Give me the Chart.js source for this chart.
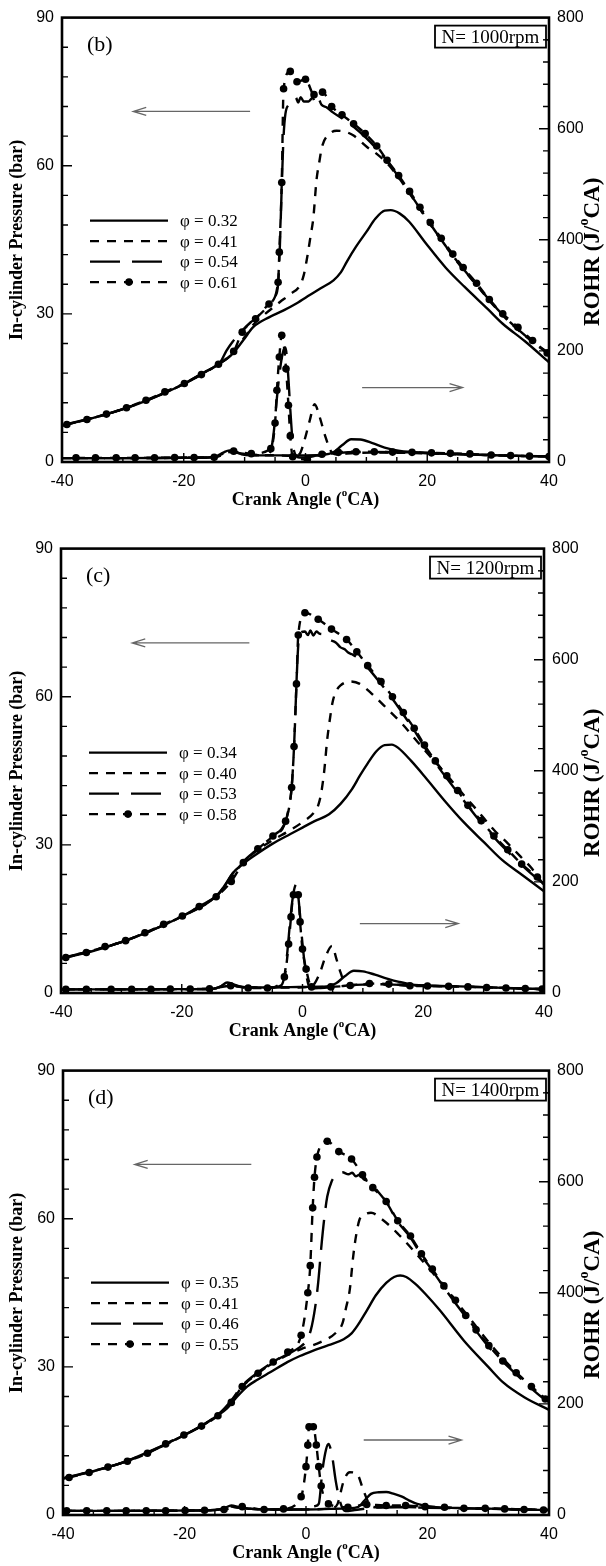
<!DOCTYPE html>
<html>
<head>
<meta charset="utf-8">
<script src="https://cdn.jsdelivr.net/npm/chart.js@4.4.1/dist/chart.umd.min.js"></script>
<style>
  html, body { margin: 0; padding: 0; background: #fff; }
  body { width: 606px; height: 1566px; position: relative; overflow: hidden; }
  canvas { position: absolute; left: 0; }
</style>
</head>
<body>
<canvas id="chartB" width="606" height="520" style="top:0px"></canvas>
<canvas id="chartC" width="606" height="520" style="top:531px"></canvas>
<canvas id="chartD" width="606" height="513" style="top:1053px"></canvas>
<script>
// ---- panel (b), N = 1000 rpm ----
const phiB = ["0.32", "0.41", "0.54", "0.61"];
const pressB1 = [[-40,7.4],[-35,8.9],[-30,10.7],[-25,13.0],[-20,15.8],[-17,17.9],[-14,20.0],[-12,21.9],[-10.2,24.7],[-8.6,27.3],[-6,29.3],[-3.6,30.7],[-1.5,32.1],[0.7,33.8],[2.5,35.2],[4.6,36.8],[5.8,38.4],[6.8,40.6],[8.3,43.6],[10,46.6],[11.5,49.3],[13,50.9],[14,51.0],[15.5,50.3],[17,48.7],[19.7,44.4],[23,39.4],[26.1,35.5],[30,30.9],[32.4,28.0],[36,24.5],[40,20.2]];
const pressB2 = [[-40,7.4],[-35,8.9],[-30,10.7],[-25,13.0],[-20,15.8],[-17,17.9],[-14,20.0],[-12,22.1],[-10,25.3],[-8.5,27.9],[-6.9,29.7],[-4.2,32.4],[-2.5,34.0],[-0.9,35.8],[-0.3,37.8],[0.2,40.9],[0.8,45.5],[1.3,49.6],[1.8,57.0],[2.3,61.0],[2.7,63.8],[4.0,66.5],[5.1,67.1],[6.5,66.9],[7.9,66.1],[10.1,63.8],[11.7,62.4],[13.4,60.5],[15.3,57.6],[17.1,54.4],[20.5,48.1],[24.2,41.7],[28.1,35.8],[32.4,29.7],[37.3,24.3],[40,21.9]];
const pressB3 = [[-40,7.4],[-30,10.7],[-20,15.8],[-16,18.6],[-14,20.2],[-13,22.5],[-12,24.3],[-10.4,26.6],[-9,28.3],[-8,29.3],[-6,31.8],[-5,33.5],[-4.5,36.0],[-4.2,44],[-3.9,56],[-3.6,66],[-3.3,70.5],[-2.8,72.3],[-2,73.3],[-1.6,73.8],[-1.2,72.8],[-0.8,73.9],[-0.3,73.0],[0.5,73.0],[1.2,73.8],[1.6,72.6],[2.1,73.6],[2.6,72.4],[3.5,71.8],[4.5,70.8],[6,69.6],[8,67.8],[10,65.6],[12,63.0],[13.4,61.0],[15.3,57.7],[17.1,54.5],[20.5,48.2],[24.2,41.8],[28.1,35.9],[32.4,29.8],[37.3,24.4],[40,22.0]];
const pressB4 = [[-39.2,7.6],[-35.9,8.6],[-32.7,9.7],[-29.4,11.0],[-26.2,12.5],[-23.1,14.2],[-19.9,15.9],[-17.1,17.7],[-14.3,19.8],[-11.8,22.4],[-10.4,26.3],[-8.2,29.0],[-6.0,32.0],[-4.5,36.4],[-4.3,42.5],[-3.9,56.6],[-3.6,75.6],[-2.5,79.1],[-1.4,77.0],[0.0,77.5],[1.4,74.4],[2.8,74.9],[4.3,72.0],[6.0,70.3],[7.9,68.5],[9.8,66.5],[11.7,64.0],[13.4,61.1],[15.3,58.0],[17.1,54.8],[18.8,51.6],[20.5,48.5],[22.3,45.3],[24.2,42.1],[25.9,39.4],[28.1,36.2],[30.2,32.9],[32.4,30.0],[34.9,27.3],[37.3,24.6],[39.7,22.1]];
const rohrB1 = [[-40,7],[-30,7],[-20,7.5],[-16,8],[-14.5,11],[-13.5,17],[-12.5,21],[-11.5,19],[-10.5,14],[-9,12],[-5,12],[0,12],[3,13],[4.5,17],[6,30],[7.5,41],[9,40.5],[11,34],[13,26],[15,21],[18,17.5],[22,15],[26,13.5],[30,12.5],[35,11],[40,10]];
const rohrB2 = [[-40,7],[-30,7],[-20,7.5],[-15,8.5],[-13.5,15],[-12.5,18],[-11,16],[-9,13],[-5,12],[-2,11],[-1,14],[-0.2,38],[0.7,75],[1.5,104],[2.3,82],[3.2,48],[4.2,19],[5,14],[8,16],[12,17],[16,16.5],[20,15.5],[25,14],[30,12.5],[35,11],[40,10]];
const rohrB3 = [[-40,7],[-30,7],[-20,7.5],[-15,8.5],[-13.5,15],[-12.5,18],[-11,16],[-9,13],[-6.5,12],[-5.7,20],[-5.2,55],[-4.7,115],[-4.2,165],[-3.7,198],[-3.3,206],[-2.9,165],[-2.5,95],[-2.1,35],[-1.7,14],[-1,8],[0,8],[2,12],[5,16],[10,18],[15,17.5],[20,16],[25,14.5],[30,12.5],[35,11],[40,10]];
const rohrB4 = [[-37.7,7.5],[-34.5,7.5],[-31.1,7.5],[-28,7.5],[-24.8,7.5],[-21.5,8],[-18.3,8],[-15,8.5],[-11.8,19.5],[-8.9,15],[-5.7,24],[-5.0,70],[-4.7,129],[-4.3,189],[-3.9,228],[-3.2,168],[-2.8,102],[-2.5,47],[-2.1,9.5],[0.3,4.8],[2.7,14],[5.4,17.4],[8.3,18.5],[11.3,18.5],[14.3,17.8],[17.5,17.4],[20.7,16.5],[23.8,15.6],[27.0,14.6],[30.5,12.6],[33.7,11.5],[36.8,10.5],[40,10]];

// ---- panel (c), N = 1200 rpm ----
const phiC = ["0.34", "0.40", "0.53", "0.58"];
const pressC1 = [[-40,7.0],[-35,8.4],[-30,10.3],[-25,12.7],[-20,15.5],[-17,17.6],[-14.3,19.6],[-13,21.4],[-11.6,24.2],[-10,26.0],[-8,27.8],[-5,30.2],[-2,32.2],[0,33.5],[2,34.8],[4.4,36.2],[6.3,38.3],[8.2,41.3],[9.5,44],[10.8,46.5],[12.2,48.9],[13.6,50.2],[14.8,50.3],[15.9,49.6],[18,47],[20.4,43.6],[23.5,39],[26.7,34.6],[30,30.6],[33.1,26.9],[36.5,23.8],[40,20.6]];
const pressC2 = [[-40,7.0],[-30,10.3],[-20,15.5],[-14.3,19.6],[-12,23],[-10,26.2],[-7.4,29.0],[-5,30.9],[-2,33.0],[0,34.6],[1.8,36.4],[2.6,38],[3.1,40.5],[3.6,45],[4.1,51.4],[4.6,56],[5.0,59.0],[5.6,61.2],[6.3,62.3],[7.9,63.1],[9.5,62.6],[11.4,60.7],[14.0,57.6],[16.5,54.5],[19.1,50.8],[21.6,47.3],[24,44],[26.7,40.1],[29,36.9],[31.8,32.9],[34,30.3],[36.3,27.4],[38,25.2],[40,21.8]];
const pressC3 = [[-40,7.0],[-30,10.3],[-20,15.5],[-14.3,19.6],[-13,21.6],[-11.8,23.8],[-10,26.4],[-7.4,29.2],[-4.9,31.8],[-2.8,34.8],[-2.2,38],[-1.8,41.6],[-1.4,49.9],[-1.0,62.6],[-0.7,70.5],[-0.3,73],[0.4,73.2],[0.9,72.5],[1.3,73.4],[1.8,72.4],[2.3,73.2],[2.8,72.8],[3.5,72.6],[4.4,71.6],[5.5,71.0],[6.3,70.0],[7.0,69.6],[7.5,69.0],[8.2,68.6],[9.5,67.6],[10.8,65.9],[13.0,62.6],[14.9,59.6],[16.7,56.4],[18.5,53.2],[20.2,49.8],[22.0,46.6],[25.7,40.6],[29.6,34.5],[34.0,28.6],[38.9,23.1],[40,22.1]];
const pressC4 = [[-39.2,7.2],[-35.8,8.2],[-32.7,9.4],[-29.3,10.6],[-26.1,12.2],[-23.0,13.9],[-19.9,15.6],[-17.1,17.5],[-14.3,19.5],[-11.8,22.6],[-9.8,26.4],[-7.4,29.2],[-4.9,31.8],[-2.8,34.8],[-1.8,41.6],[-1.4,49.9],[-1.0,62.6],[-0.7,72.5],[0.4,77.0],[2.6,75.7],[4.8,73.7],[7.3,71.6],[9.0,69.1],[10.8,66.3],[13.0,63.1],[14.9,60.0],[16.7,56.8],[18.5,53.6],[20.2,50.2],[22.0,47.0],[23.9,44.0],[25.7,41.0],[27.4,38.0],[29.6,34.9],[31.7,31.8],[34.0,29.0],[36.3,26.1],[38.9,23.5]];
const rohrC1 = [[-40,6.5],[-30,6.5],[-20,7],[-15,7.5],[-13.5,12],[-12.5,19],[-11.5,16],[-10,11],[-6,10],[-2,10.5],[1,11],[4,12],[5.5,17],[7,30],[8.5,40],[10,39],[12,33],[14,26],[16,20],[18,15.5],[22,13],[26,12],[30,10.5],[35,8.5],[40,7]];
const rohrC2 = [[-40,6.5],[-30,6.5],[-20,7],[-15,7.5],[-13.5,12],[-12.5,17],[-11,13],[-9,10],[-5,10],[-1,10],[1.5,12],[2.8,34],[3.8,65],[4.9,85],[5.6,62],[6.3,37],[7,18],[8,14],[11,16],[15,15],[20,13],[25,12],[30,10.5],[35,8.5],[40,7]];
const rohrC3 = [[-40,6.5],[-30,6.5],[-20,7],[-15,7.5],[-13.5,12],[-12.5,17],[-11,13],[-9,10],[-5,10],[-3.5,14],[-3,30],[-2.5,75],[-2,135],[-1.5,180],[-1.0,196],[-0.5,152],[0,88],[0.5,42],[1,14],[1.5,8],[3,9],[6,12],[10,15],[15,15],[20,13],[25,12],[30,10.5],[35,8.5],[40,7]];
const rohrC4 = [[-39.2,6.5],[-35.8,6.5],[-31.7,6.5],[-28.3,6.5],[-25.1,6.5],[-21.9,7],[-18.6,7],[-15.4,7.5],[-11.9,13],[-9.0,9],[-5.8,9],[-3.0,29],[-2.3,88],[-1.9,137],[-1.5,177],[-0.7,177],[-0.4,128],[0.0,79],[0.6,43],[1.5,11],[4.7,11],[7.9,13.5],[11.1,17],[14.3,16],[17.8,13],[20.7,12.5],[24.2,12],[27.4,11],[30.5,10],[33.7,9],[36.9,8],[39.7,7]];

// ---- panel (d), N = 1400 rpm ----
const phiD = ["0.35", "0.41", "0.46", "0.55"];
const pressD1 = [[-40,7.4],[-35,8.9],[-30,10.7],[-25,13.3],[-20,16.2],[-17,18.2],[-14.5,20.2],[-13,21.6],[-11.6,23.6],[-9.7,26.0],[-8,27.4],[-5.9,28.9],[-3,31.0],[-1,32.2],[1,33.2],[3.7,34.4],[6.2,35.6],[7.5,36.8],[8.5,38.4],[10,41.4],[11.5,44.5],[13.2,47.0],[14.5,48.2],[15.5,48.5],[16.5,48.2],[18,46.8],[19.7,44.7],[22,41.5],[26,35.3],[30,30.0],[32.4,26.9],[36,23.8],[40,21.3]];
const pressD2 = [[-40,7.4],[-30,10.7],[-20,16.2],[-14.5,20.3],[-12.3,23.0],[-10.5,26.0],[-8,28.6],[-5.4,30.8],[-3,32.4],[-0.8,33.6],[2.4,35.0],[5.0,37.0],[6.0,38.8],[6.6,42],[7.2,45.6],[7.8,52.7],[8.3,57],[8.8,59.8],[9.6,60.8],[10.7,61.2],[12.6,59.8],[15.1,57.0],[18.3,52.7],[21.5,48.1],[26.0,41.3],[31.1,33.5],[35.5,27.8],[40,22.9]];
const pressD3 = [[-40,7.4],[-30,10.7],[-20,16.2],[-14.5,20.3],[-12.3,23.2],[-10.5,26.2],[-7.9,28.9],[-5.4,31.0],[-3,32.6],[-1,34.0],[0,35.2],[0.8,37.5],[1.5,42],[2.0,47],[2.5,54],[3.0,60],[3.5,64.5],[4.2,67.5],[5,68.8],[6,69.4],[7,69.0],[7.6,69.3],[8.2,68.6],[8.8,68.9],[9.5,68.0],[10.5,67.4],[11.5,66.0],[13.2,63.4],[15.1,59.4],[17.2,56.2],[19,52.6],[20.8,49.5],[22.7,46.1],[26.3,40.1],[30.1,34.0],[34.6,28.5],[39.4,23.3],[40,22.9]];
const pressD4 = [[-39.0,7.6],[-35.7,8.6],[-32.6,9.7],[-29.4,10.9],[-26.1,12.5],[-23.1,14.4],[-20.1,16.2],[-17.2,18.0],[-14.5,20.1],[-12.3,22.8],[-10.5,26.0],[-7.9,28.7],[-5.4,31.0],[-3.0,33.0],[-0.8,36.4],[0.3,45.0],[0.7,50.5],[1.1,62.2],[1.4,68.4],[1.8,72.5],[3.5,75.7],[5.4,73.6],[7.5,72.1],[9.3,68.9],[11.0,66.3],[13.2,63.5],[15.1,59.6],[17.2,56.5],[19.0,52.9],[20.8,49.8],[22.7,46.4],[24.6,43.5],[26.3,40.4],[28.0,37.5],[30.1,34.3],[32.4,31.2],[34.6,28.8],[37.1,26.0],[39.4,23.5]];
const rohrD1 = [[-40,7.5],[-30,7.5],[-20,8],[-15,9],[-13.5,12],[-12.3,17],[-11,14],[-9,11],[-5,10],[0,10],[4,11],[7,12],[8.5,14],[9.7,27],[10.7,38],[12,41],[13.2,41.5],[14.5,38],[15.8,33],[17,26],[18.3,20],[20.9,14.5],[25,12.5],[30,11.5],[35,10],[40,9]];
const rohrD2 = [[-40,7.5],[-30,7.5],[-20,8],[-15,9],[-13.5,12],[-12.3,15],[-11,13],[-9,11],[-5,10],[0,10],[3,11],[4.5,13],[5.2,20],[6.2,61],[7.2,77],[8.4,74],[9.4,46],[10.4,20],[11.5,14],[14,15],[18,14],[22,13],[26,12],[30,11.5],[35,10],[40,9]];
const rohrD3 = [[-40,7.5],[-30,7.5],[-20,8],[-15,9],[-13.5,12],[-12.3,15],[-11,13],[-9,11],[-5,10],[-1,10],[0.5,14],[1.5,16],[2.1,20],[2.7,80],[3.3,118],[3.7,128],[4.3,106],[4.9,61],[5.6,24],[6.5,7],[8,9],[11,13],[15,14],[20,13],[25,12],[30,11],[35,10],[40,9]];
const rohrD4 = [[-39.4,7.5],[-36.1,7.5],[-32.8,7.5],[-29.6,7.5],[-26.3,7.5],[-23.1,7.5],[-19.9,8],[-16.7,8.5],[-13.5,10],[-10.5,15],[-6.9,10],[-3.7,11],[-0.8,33],[0.0,87],[0.3,126],[0.5,159],[1.2,159],[1.7,126],[2.1,87],[2.5,52],[3.7,20],[6.9,14],[10.0,19],[13.2,17],[16.4,17],[19.6,15],[22.8,14],[26.0,12],[29.5,12],[32.7,11],[35.9,10],[39.1,9]];

Chart.defaults.font.family = "'Liberation Sans', Arial, sans-serif";
Chart.defaults.color = "#000";

const serif = "'Liberation Serif', 'Times New Roman', serif";
const dashes = [[], [9, 8], [30, 12], [9, 8]];

const toPoints = (pairs) => pairs.map(([x, y]) => ({ x: x, y: y }));

// text with a small raised "o" part, centred on (0, 0)
const drawRich = function (ctx, parts, size) {
  const big = `bold ${size}px ${serif}`;
  const small = `bold ${Math.round(size * 0.62)}px ${serif}`;
  let total = 0;
  parts.forEach((p) => {
    ctx.font = p[1] ? small : big;
    total += ctx.measureText(p[0]).width;
  });
  let x = -total / 2;
  ctx.textAlign = "left";
  ctx.textBaseline = "middle";
  parts.forEach((p) => {
    ctx.font = p[1] ? small : big;
    ctx.fillText(p[0], x, p[1] ? -size * 0.36 : 0);
    x += ctx.measureText(p[0]).width;
  });
};

const drawArrow = function (ctx, x0, x1, y) {
  const dir = x1 > x0 ? 1 : -1;
  ctx.beginPath();
  ctx.moveTo(x0, y);
  ctx.lineTo(x1, y);
  ctx.moveTo(x1 - dir * 13, y - 4);
  ctx.lineTo(x1, y);
  ctx.lineTo(x1 - dir * 13, y + 4);
  ctx.stroke();
};

const panelDecor = {
  id: "panelDecor",
  afterDatasetsDraw(chart, args, cfg) {
    const ctx = chart.ctx;
    const a = chart.chartArea;
    const sx = chart.scales.x;
    const sy = chart.scales.y;
    const sr = chart.scales.y1;
    ctx.save();

    // inward tick marks
    ctx.strokeStyle = "#000";
    ctx.lineWidth = 1.4;
    ctx.beginPath();
    for (let v = -35; v < 40; v += 5) {
      const px = sx.getPixelForValue(v);
      const len = v % 20 === 0 ? 9 : 5;
      ctx.moveTo(px, a.bottom);
      ctx.lineTo(px, a.bottom - len);
    }
    for (let v = 6; v < 90; v += 6) {
      const py = sy.getPixelForValue(v);
      const len = v % 30 === 0 ? 10 : 6;
      ctx.moveTo(a.left, py);
      ctx.lineTo(a.left + len, py);
    }
    for (let v = 40; v < 800; v += 40) {
      const py = sr.getPixelForValue(v);
      const len = v % 200 === 0 ? 10 : 6;
      ctx.moveTo(a.right, py);
      ctx.lineTo(a.right - len, py);
    }
    ctx.stroke();

    // frame
    ctx.lineWidth = 2.6;
    ctx.strokeRect(a.left, a.top, a.right - a.left, a.bottom - a.top);

    // panel tag
    ctx.fillStyle = "#000";
    ctx.font = `22px ${serif}`;
    ctx.textAlign = "left";
    ctx.textBaseline = "middle";
    ctx.fillText(cfg.tag, a.left + 25, a.top + 28);

    // speed box
    ctx.font = `19px ${serif}`;
    const bw = 111;
    const bx = a.right - 3 - bw;
    ctx.lineWidth = 1.8;
    ctx.fillStyle = "#fff";
    ctx.fillRect(bx, a.top + 8, bw, 22);
    ctx.strokeRect(bx, a.top + 8, bw, 22);
    ctx.fillStyle = "#000";
    ctx.textAlign = "center";
    ctx.fillText(cfg.speed, bx + bw / 2, a.top + 20);
    ctx.lineWidth = 1.4;
    ctx.beginPath();
    ctx.moveTo(a.right, sr.getPixelForValue(760));
    ctx.lineTo(a.right - 6, sr.getPixelForValue(760));
    ctx.stroke();

    // legend
    cfg.phi.forEach((phi, i) => {
      const ly = a.top + cfg.legendTop + i * 20.5;
      ctx.lineWidth = 2.4;
      ctx.setLineDash(dashes[i]);
      ctx.beginPath();
      ctx.moveTo(a.left + 28, ly);
      ctx.lineTo(a.left + 106, ly);
      ctx.stroke();
      ctx.setLineDash([]);
      if (i === 3) {
        ctx.beginPath();
        ctx.arc(a.left + 67, ly, 3.8, 0, Math.PI * 2);
        ctx.fill();
      }
      ctx.font = `17px ${serif}`;
      ctx.textAlign = "left";
      ctx.fillText(`φ = ${phi}`, a.left + 118, ly + 1);
    });

    // arrows pointing at the axes
    ctx.strokeStyle = "#666";
    ctx.lineWidth = 1.3;
    const pa = cfg.pressArrow;
    drawArrow(ctx, sx.getPixelForValue(pa[0]), sx.getPixelForValue(pa[1]), sy.getPixelForValue(pa[2]));
    const ra = cfg.rohrArrow;
    drawArrow(ctx, sx.getPixelForValue(ra[0]), sx.getPixelForValue(ra[1]), sr.getPixelForValue(ra[2]));

    // axis titles
    ctx.fillStyle = "#000";
    ctx.save();
    ctx.translate(17, (a.top + a.bottom) / 2);
    ctx.rotate(-Math.PI / 2);
    drawRich(ctx, [["In-cylinder Pressure (bar)", false]], 18);
    ctx.restore();

    ctx.save();
    ctx.translate(593, (a.top + a.bottom) / 2 + 12);
    ctx.rotate(-Math.PI / 2);
    drawRich(ctx, [["ROHR (J/", false], ["o", true], ["CA)", false]], 23);
    ctx.restore();

    ctx.save();
    ctx.translate((a.left + a.right) / 2, a.bottom + 38);
    drawRich(ctx, [["Crank Angle (", false], ["o", true], ["CA)", false]], 18);
    ctx.restore();

    ctx.restore();
  },
};

const lineSet = function (pts, i, axis) {
  return {
    data: toPoints(pts),
    yAxisID: axis,
    borderColor: "#000",
    backgroundColor: "#000",
    borderWidth: 2.4,
    borderDash: dashes[i],
    pointRadius: i === 3 ? 3.8 : 0,
    pointBorderWidth: 0,
    pointHoverRadius: 0,
    cubicInterpolationMode: "monotone",
    fill: false,
  };
};

const makeChart = function (id, press, rohr, cfg) {
  const sets = [];
  press.forEach((pts, i) => sets.push(lineSet(pts, i, "y")));
  rohr.forEach((pts, i) => sets.push(lineSet(pts, i, "y1")));
  const canvas = document.getElementById(id);
  const tickFont = { size: 16, family: "'Liberation Sans', Arial, sans-serif" };
  return new Chart(canvas.getContext("2d"), {
    type: "line",
    data: { datasets: sets },
    plugins: [panelDecor],
    options: {
      responsive: false,
      animation: false,
      events: [],
      layout: { padding: { top: 17, bottom: canvas.height - 462 - 40, left: 0, right: 0 } },
      plugins: { legend: { display: false }, tooltip: { enabled: false }, panelDecor: cfg },
      scales: {
        x: {
          type: "linear",
          min: -40,
          max: 40,
          grid: { display: false, drawTicks: false },
          border: { display: false },
          ticks: { stepSize: 20, padding: 10, font: tickFont, color: "#000", maxRotation: 0 },
          afterFit: (s) => { s.height = 40; },
        },
        y: {
          position: "left",
          min: 0,
          max: 90,
          grid: { display: false, drawTicks: false },
          border: { display: false },
          ticks: { stepSize: 30, padding: 8, font: tickFont, color: "#000" },
          afterFit: (s) => { s.width = cfg.left; },
        },
        y1: {
          position: "right",
          min: 0,
          max: 800,
          grid: { display: false, drawTicks: false },
          border: { display: false },
          ticks: { stepSize: 200, padding: 8, font: tickFont, color: "#000" },
          afterFit: (s) => { s.width = 606 - cfg.right; },
        },
      },
    },
  });
};

makeChart("chartB", [pressB1, pressB2, pressB3, pressB4], [rohrB1, rohrB2, rohrB3, rohrB4], {
  tag: "(b)", speed: "N= 1000rpm", phi: phiB, legendTop: 203, left: 62, right: 549,
  pressArrow: [-9.1, -28.3, 71.0], rohrArrow: [9.3, 25.8, 134],
});
makeChart("chartC", [pressC1, pressC2, pressC3, pressC4], [rohrC1, rohrC2, rohrC3, rohrC4], {
  tag: "(c)", speed: "N= 1200rpm", phi: phiC, legendTop: 204, left: 61, right: 544,
  pressArrow: [-8.8, -28.2, 70.9], rohrArrow: [9.5, 25.8, 125],
});
makeChart("chartD", [pressD1, pressD2, pressD3, pressD4], [rohrD1, rohrD2, rohrD3, rohrD4], {
  tag: "(d)", speed: "N= 1400rpm", phi: phiD, legendTop: 212, left: 63, right: 549,
  pressArrow: [-9.0, -28.2, 71.0], rohrArrow: [9.5, 25.6, 135],
});
</script>
</body>
</html>
